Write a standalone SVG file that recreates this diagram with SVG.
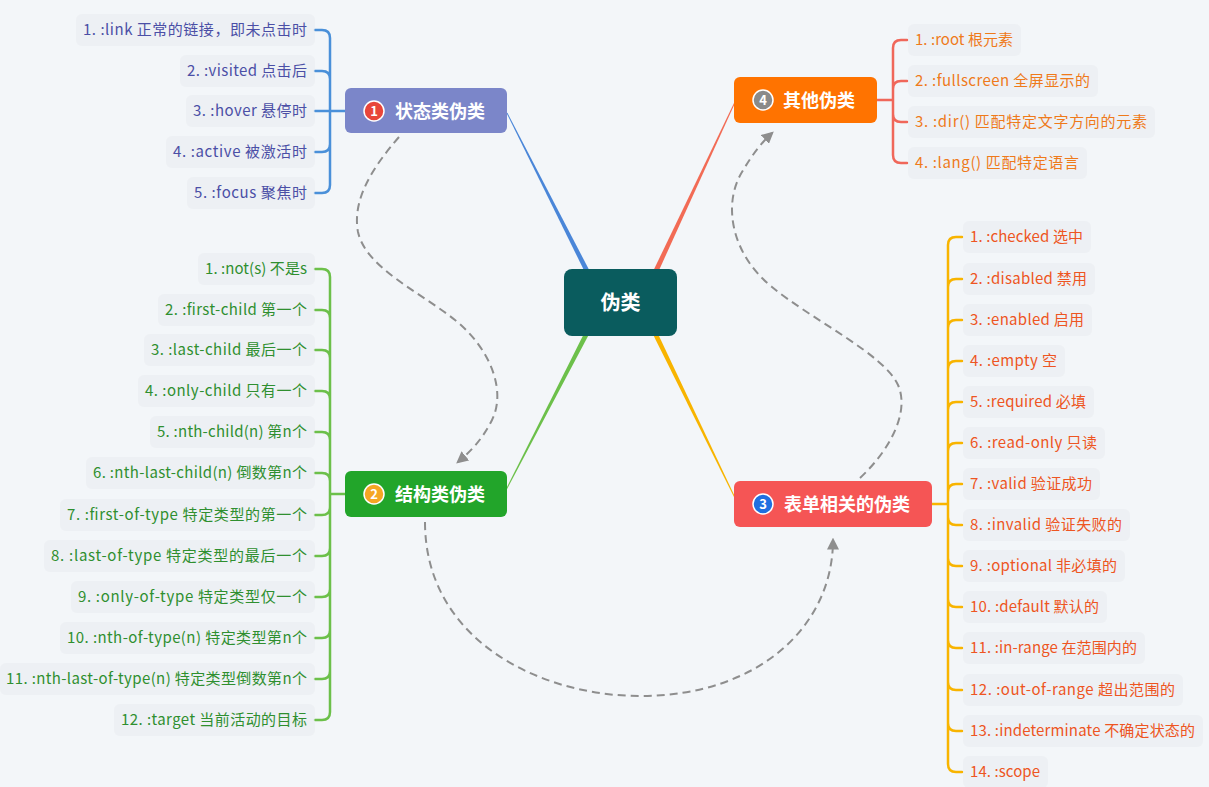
<svg xmlns="http://www.w3.org/2000/svg" width="1209" height="787" viewBox="0 0 1209 787">
<defs>
<marker id="arr" viewBox="0 0 10 10" refX="8" refY="5" markerWidth="6" markerHeight="6" orient="auto-start-reverse" markerUnits="strokeWidth">
<path d="M0,0 L10,5 L0,10 z" fill="#8e8e8e"/>
</marker>
<style>
text{font-family:"Noto Sans CJK SC","Noto Sans",sans-serif;}
.it{font-size:15px;}
.b1 .it{fill:#4b4fa6;}
.b2 .it{fill:#2f8f2f;}
.b4 .it{fill:#ef7a1a;}
.b3 .it{fill:#ee5522;}
.bg{fill:#e6e9ed;opacity:0.45;}
.br{fill:none;stroke-width:2.5;stroke-linecap:round;}
.nt{font-size:18px;font-weight:bold;fill:#fff;}
.ic{font-size:13px;font-weight:bold;fill:#fff;text-anchor:middle;}
.dash{fill:none;stroke:#8e8e8e;stroke-width:2;stroke-dasharray:8 5;}
</style>
</defs>
<rect width="1209" height="787" fill="#f3f6f9"/>

<g id="connectors">
<polygon points="506.6,113.2 507.4,112.8 590.2,272 585.8,274" fill="#4a86d8"/>
<polygon points="735.4,102.2 734.6,101.8 652.7,272 657.3,274" fill="#f26b55"/>
<polygon points="590.2,332 585.8,330 504.6,491.8 505.4,492.2" fill="#6cc04a"/>
<polygon points="650.8,330 655.2,328 736.4,499.8 735.6,500.2" fill="#f8b400"/>
<path class="br" stroke="#4a90d9" d="M330,38 L330,185 M315,30 L322,30 Q330,30 330,38 M315,71 L322,71 Q330,71 330,79 M315,111 L345,111 M315,152 L322,152 Q330,152 330,144 M315,193 L322,193 Q330,193 330,185"/>
<path class="br" stroke="#6cc04a" d="M330,277 L330,712 M330,494 L345,494 M315,269 L322,269 Q330,269 330,277 M315,310 L322,310 Q330,310 330,318 M315,350 L322,350 Q330,350 330,358 M315,391 L322,391 Q330,391 330,399 M315,432 L322,432 Q330,432 330,440 M315,473 L322,473 Q330,473 330,481 M315,515 L322,515 Q330,515 330,507 M315,556 L322,556 Q330,556 330,548 M315,597 L322,597 Q330,597 330,589 M315,638 L322,638 Q330,638 330,630 M315,679 L322,679 Q330,679 330,671 M315,720 L322,720 Q330,720 330,712"/>
<path class="br" stroke="#f0675a" d="M893,48 L893,155 M877,100 L893,100 M907,40 L901,40 Q893,40 893,48 M907,81 L901,81 Q893,81 893,89 M907,122 L901,122 Q893,122 893,114 M907,163 L901,163 Q893,163 893,155"/>
<path class="br" stroke="#f8b400" d="M948,245 L948,764 M932,504 L948,504 M962,237 L956,237 Q948,237 948,245 M962,279 L956,279 Q948,279 948,287 M962,320 L956,320 Q948,320 948,328 M962,361 L956,361 Q948,361 948,369 M962,402 L956,402 Q948,402 948,410 M962,443 L956,443 Q948,443 948,451 M962,484 L956,484 Q948,484 948,492 M962,525 L956,525 Q948,525 948,517 M962,566 L956,566 Q948,566 948,558 M962,607 L956,607 Q948,607 948,599 M962,648 L956,648 Q948,648 948,640 M962,690 L956,690 Q948,690 948,682 M962,731 L956,731 Q948,731 948,723 M962,772 L956,772 Q948,772 948,764"/>
<path class="dash" marker-end="url(#arr)" d="M399,137 C372,168 352,200 358,232 C366,268 420,292 455,320 C492,350 506,392 492,420 C482,440 470,452 458,462"/>
<path class="dash" marker-end="url(#arr)" d="M425,522 C425,640 540,696 640,696 C760,696 833,625 833,540"/>
<path class="dash" marker-end="url(#arr)" d="M860,478 C890,450 910,412 898,385 C884,354 812,320 772,287 C732,255 722,205 742,172 C752,155 762,142 772,133"/>
</g>

<g id="center">
<rect x="564" y="269" width="113" height="67" rx="8" fill="#0a5c5e"/>
<text x="620.5" y="310" font-size="20" font-weight="bold" fill="#fff" text-anchor="middle">伪类</text>
</g>

<g id="node1">
<rect x="345" y="88" width="162" height="45" rx="6" fill="#7b86c9"/>
<circle cx="374" cy="111" r="10" fill="#e8453a" stroke="#fff" stroke-width="1.5"/>
<text class="ic" x="374" y="115.5">1</text>
<text class="nt" x="395" y="117.5">状态类伪类</text>
</g>
<g id="node2">
<rect x="345" y="471" width="162" height="46" rx="6" fill="#22a52a"/>
<circle cx="374" cy="494" r="10" fill="#f5a623" stroke="#fff" stroke-width="1.5"/>
<text class="ic" x="374" y="498.5">2</text>
<text class="nt" x="395" y="500.5">结构类伪类</text>
</g>
<g id="node3">
<rect x="734" y="481" width="198" height="46" rx="6" fill="#f55555"/>
<circle cx="763" cy="504" r="10" fill="#1f6fe0" stroke="#fff" stroke-width="1.5"/>
<text class="ic" x="763" y="508.5">3</text>
<text class="nt" x="784" y="510.5">表单相关的伪类</text>
</g>
<g id="node4">
<rect x="734" y="77" width="143" height="46" rx="6" fill="#ff7300"/>
<circle cx="763" cy="100" r="10" fill="#8a8a8a" stroke="#fff" stroke-width="1.5"/>
<text class="ic" x="763" y="104.5">4</text>
<text class="nt" x="783" y="106.5">其他伪类</text>
</g>

<g id="branch1" class="b1">
<g id="n1-1"><rect class="bg" x="76" y="14" width="239" height="32" rx="6"/><text class="it" x="307" y="35" text-anchor="end" textLength="224">1. :link 正常的链接，即未点击时</text></g>
<g id="n1-2"><rect class="bg" x="180" y="55" width="135" height="32" rx="6"/><text class="it" x="307" y="76" text-anchor="end" textLength="120">2. :visited 点击后</text></g>
<g id="n1-3"><rect class="bg" x="186" y="95" width="129" height="32" rx="6"/><text class="it" x="307" y="116" text-anchor="end" textLength="114">3. :hover 悬停时</text></g>
<g id="n1-4"><rect class="bg" x="166" y="136" width="149" height="32" rx="6"/><text class="it" x="307" y="157" text-anchor="end" textLength="134">4. :active 被激活时</text></g>
<g id="n1-5"><rect class="bg" x="187" y="177" width="128" height="32" rx="6"/><text class="it" x="307" y="198" text-anchor="end" textLength="113">5. :focus 聚焦时</text></g>
</g>

<g id="branch2" class="b2">
<g id="n2-1"><rect class="bg" x="198" y="253" width="117" height="32" rx="6"/><text class="it" x="307" y="274" text-anchor="end" textLength="102">1. :not(s) 不是s</text></g>
<g id="n2-2"><rect class="bg" x="158" y="294" width="157" height="32" rx="6"/><text class="it" x="307" y="315" text-anchor="end" textLength="142">2. :first-child 第一个</text></g>
<g id="n2-3"><rect class="bg" x="144" y="334" width="171" height="32" rx="6"/><text class="it" x="307" y="355" text-anchor="end" textLength="156">3. :last-child 最后一个</text></g>
<g id="n2-4"><rect class="bg" x="138" y="375" width="177" height="32" rx="6"/><text class="it" x="307" y="396" text-anchor="end" textLength="162">4. :only-child 只有一个</text></g>
<g id="n2-5"><rect class="bg" x="150" y="416" width="165" height="32" rx="6"/><text class="it" x="307" y="437" text-anchor="end" textLength="150">5. :nth-child(n) 第n个</text></g>
<g id="n2-6"><rect class="bg" x="86" y="457" width="229" height="32" rx="6"/><text class="it" x="307" y="478" text-anchor="end" textLength="214">6. :nth-last-child(n) 倒数第n个</text></g>
<g id="n2-7"><rect class="bg" x="60" y="499" width="255" height="32" rx="6"/><text class="it" x="307" y="520" text-anchor="end" textLength="240">7. :first-of-type 特定类型的第一个</text></g>
<g id="n2-8"><rect class="bg" x="44" y="540" width="271" height="32" rx="6"/><text class="it" x="307" y="561" text-anchor="end" textLength="256">8. :last-of-type 特定类型的最后一个</text></g>
<g id="n2-9"><rect class="bg" x="71" y="581" width="244" height="32" rx="6"/><text class="it" x="307" y="602" text-anchor="end" textLength="229">9. :only-of-type 特定类型仅一个</text></g>
<g id="n2-10"><rect class="bg" x="60" y="622" width="255" height="32" rx="6"/><text class="it" x="307" y="643" text-anchor="end" textLength="240">10. :nth-of-type(n) 特定类型第n个</text></g>
<g id="n2-11"><rect class="bg" x="0" y="663" width="315" height="32" rx="6"/><text class="it" x="307" y="684" text-anchor="end" textLength="301">11. :nth-last-of-type(n) 特定类型倒数第n个</text></g>
<g id="n2-12"><rect class="bg" x="114" y="704" width="201" height="32" rx="6"/><text class="it" x="307" y="725" text-anchor="end" textLength="186">12. :target 当前活动的目标</text></g>
</g>

<g id="branch4" class="b4">
<g id="n4-1"><rect class="bg" x="908" y="24" width="113" height="32" rx="6"/><text class="it" x="915" y="45" textLength="98">1. :root 根元素</text></g>
<g id="n4-2"><rect class="bg" x="908" y="65" width="190" height="32" rx="6"/><text class="it" x="915" y="86" textLength="175">2. :fullscreen 全屏显示的</text></g>
<g id="n4-3"><rect class="bg" x="908" y="106" width="247" height="32" rx="6"/><text class="it" x="915" y="127" textLength="232">3. :dir() 匹配特定文字方向的元素</text></g>
<g id="n4-4"><rect class="bg" x="908" y="147" width="179" height="32" rx="6"/><text class="it" x="915" y="168" textLength="164">4. :lang() 匹配特定语言</text></g>
</g>

<g id="branch3" class="b3">
<g id="n3-1"><rect class="bg" x="963" y="221" width="128" height="32" rx="6"/><text class="it" x="970" y="242" textLength="113">1. :checked 选中</text></g>
<g id="n3-2"><rect class="bg" x="963" y="263" width="132" height="32" rx="6"/><text class="it" x="970" y="284" textLength="117">2. :disabled 禁用</text></g>
<g id="n3-3"><rect class="bg" x="963" y="304" width="129" height="32" rx="6"/><text class="it" x="970" y="325" textLength="114">3. :enabled 启用</text></g>
<g id="n3-4"><rect class="bg" x="963" y="345" width="102" height="32" rx="6"/><text class="it" x="970" y="366" textLength="87">4. :empty 空</text></g>
<g id="n3-5"><rect class="bg" x="963" y="386" width="131" height="32" rx="6"/><text class="it" x="970" y="407" textLength="116">5. :required 必填</text></g>
<g id="n3-6"><rect class="bg" x="963" y="427" width="142" height="32" rx="6"/><text class="it" x="970" y="448" textLength="127">6. :read-only 只读</text></g>
<g id="n3-7"><rect class="bg" x="963" y="468" width="137" height="32" rx="6"/><text class="it" x="970" y="489" textLength="122">7. :valid 验证成功</text></g>
<g id="n3-8"><rect class="bg" x="963" y="509" width="167" height="32" rx="6"/><text class="it" x="970" y="530" textLength="152">8. :invalid 验证失败的</text></g>
<g id="n3-9"><rect class="bg" x="963" y="550" width="162" height="32" rx="6"/><text class="it" x="970" y="571" textLength="147">9. :optional 非必填的</text></g>
<g id="n3-10"><rect class="bg" x="963" y="591" width="144" height="32" rx="6"/><text class="it" x="970" y="612" textLength="129">10. :default 默认的</text></g>
<g id="n3-11"><rect class="bg" x="963" y="632" width="182" height="32" rx="6"/><text class="it" x="970" y="653" textLength="167">11. :in-range 在范围内的</text></g>
<g id="n3-12"><rect class="bg" x="963" y="674" width="220" height="32" rx="6"/><text class="it" x="970" y="695" textLength="205">12. :out-of-range 超出范围的</text></g>
<g id="n3-13"><rect class="bg" x="963" y="715" width="240" height="32" rx="6"/><text class="it" x="970" y="736" textLength="225">13. :indeterminate 不确定状态的</text></g>
<g id="n3-14"><rect class="bg" x="963" y="756" width="85" height="32" rx="6"/><text class="it" x="970" y="777" textLength="70">14. :scope</text></g>
</g>
</svg>
